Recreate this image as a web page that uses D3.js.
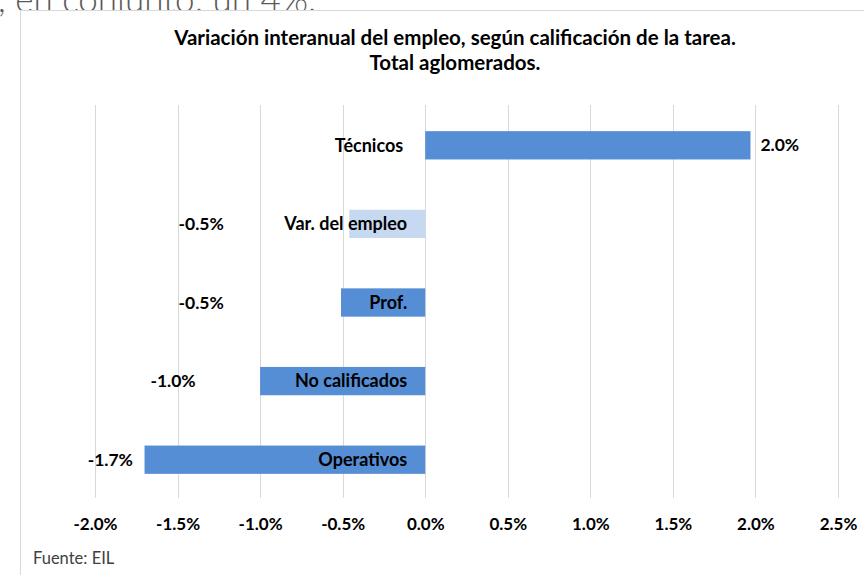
<!DOCTYPE html>
<html>
<head>
<meta charset="utf-8">
<script src="https://cdn.jsdelivr.net/npm/d3@7"></script>
<style>
  body { margin: 0; background: #fff; }
  svg { display: block; }
  text { font-family: Lato, "Open Sans", sans-serif; }
</style>
</head>
<body>
<div id="chart"></div>
<script>
// data
var categories = ["Técnicos", "Var. del empleo", "Prof.", "No calificados", "Operativos"];
var values = [1.97, -0.46, -0.51, -1.0, -1.7];
var valueLabels = ["2.0%", "-0.5%", "-0.5%", "-1.0%", "-1.7%"];
var tickValues = [-2.0, -1.5, -1.0, -0.5, 0.0, 0.5, 1.0, 1.5, 2.0, 2.5];
// where excel left the value labels (in % units, right edge for negatives)
var valueLabelAt = [2.03, -1.22, -1.22, -1.39, -1.77];

var width = 864,
    height = 575;

var svg = d3.select("#chart").append("svg")
    .attr("width", width)
    .attr("height", height);

// paragraph text cut off above the chart
svg.append("text")
    .attr("x", -2)
    .attr("y", 12)
    .style("font-size", "35px")
    .style("font-weight", 300)
    .attr("fill", "#595959")
    .text(", en conjunto: un 4%.");

// chart box
svg.append("rect")
    .attr("x", 20.5)
    .attr("y", 10.5)
    .attr("width", 900)
    .attr("height", 600)
    .attr("fill", "#fff")
    .attr("stroke", "#d9d9d9");

svg.append("text")
    .attr("x", 455)
    .attr("y", 45)
    .attr("text-anchor", "middle")
    .style("font-size", "20.5px")
    .style("font-weight", "bold")
    .attr("fill", "#000")
    .text("Variación interanual del empleo, según calificación de la tarea.");
svg.append("text")
    .attr("x", 455)
    .attr("y", 70)
    .attr("text-anchor", "middle")
    .style("font-size", "20.5px")
    .style("font-weight", "bold")
    .attr("fill", "#000")
    .text("Total aglomerados.");

var x = d3.scaleLinear()
    .domain([-2.0, 2.5])
    .range([95, 838]);

var y = d3.scaleBand()
    .domain(categories)
    .range([106, 499])
    .paddingInner(0.64)
    .paddingOuter(0.32);

var plotTop = 105, plotBottom = 498;

// gridlines
svg.append("g")
    .selectAll("line")
    .data(tickValues)
    .enter().append("line")
    .attr("x1", function(d) { return Math.round(x(d)) + 0.5; })
    .attr("x2", function(d) { return Math.round(x(d)) + 0.5; })
    .attr("y1", plotTop)
    .attr("y2", plotBottom)
    .attr("stroke", "#d9d9d9")
    .attr("stroke-width", 1);

// tick labels (plain hyphen like excel, not the unicode minus)
var xAxis = d3.axisBottom(x)
    .tickValues(tickValues)
    .tickSize(0)
    .tickPadding(0)
    .tickFormat(function(d) { return d.toFixed(1) + "%"; });

var ax = svg.append("g")
    .attr("transform", "translate(0," + 530 + ")")
    .call(xAxis);
ax.select(".domain").remove();
ax.selectAll("text")
    .attr("dy", null)
    .attr("y", 0)
    .style("font-family", "Lato, sans-serif")
    .style("font-size", "17px")
    .style("font-weight", "bold")
    .attr("fill", "#000");

// bars
svg.append("g")
    .selectAll("rect")
    .data(categories)
    .enter().append("rect")
    .attr("x", function(d, i) { return x(Math.min(0, values[i])); })
    .attr("y", function(d) { return y(d); })
    .attr("width", function(d, i) { return Math.abs(x(values[i]) - x(0)); })
    .attr("height", y.bandwidth())
    .attr("fill", function(d, i) { return i == 1 ? "#c6d9f1" : "#558ed5"; });

// category labels, right aligned near zero
svg.append("g")
    .selectAll("text")
    .data(categories)
    .enter().append("text")
    .attr("x", function(d, i) { return x(0) - (i == 0 ? 22 : 18); })
    .attr("y", function(d) { return y(d) + y.bandwidth() / 2; })
    .attr("dy", "0.35em")
    .attr("text-anchor", "end")
    .style("font-size", "18px")
    .style("font-weight", "bold")
    .attr("fill", "#000")
    .text(function(d) { return d; });

// value labels
svg.append("g")
    .selectAll("text")
    .data(valueLabels)
    .enter().append("text")
    .attr("x", function(d, i) { return x(valueLabelAt[i]); })
    .attr("y", function(d, i) { return y(categories[i]) + y.bandwidth() / 2; })
    .attr("dy", "0.35em")
    .attr("text-anchor", function(d, i) { return values[i] > 0 ? "start" : "end"; })
    .style("font-size", "17.5px")
    .style("font-weight", "bold")
    .attr("fill", "#000")
    .text(function(d) { return d; });

svg.append("text")
    .attr("x", 33)
    .attr("y", 564)
    .style("font-size", "16.5px")
    .attr("fill", "#404040")
    .text("Fuente: EIL");
</script>
</body>
</html>
